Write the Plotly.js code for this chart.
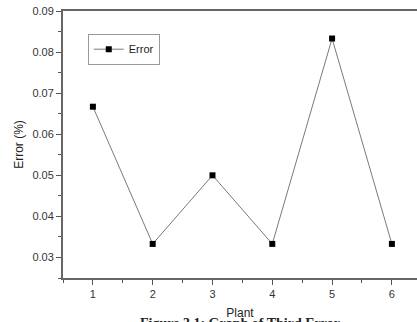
<!DOCTYPE html>
<html>
<head>
<meta charset="utf-8">
<script src="https://cdn.plot.ly/plotly-3.0.1.min.js"></script>
<style>html,body{margin:0;padding:0;background:#fff;}#chart{width:417px;height:322px;}</style>
</head>
<body>
<div id="chart"></div>
<script>
var plants = [1, 2, 3, 4, 5, 6];
var errorValues = [0.0667, 0.0333, 0.05, 0.0333, 0.0833, 0.0333];
var xTickVals = [1, 2, 3, 4, 5, 6];
var yTickVals = [0.03, 0.04, 0.05, 0.06, 0.07, 0.08, 0.09];
var seriesName = 'Error';
var caption = 'Figure 3.1: Graph of Third Error';

var trace = {
  x: plants, y: errorValues, name: seriesName,
  type: 'scatter', mode: 'lines+markers',
  line: {color: '#7a7a7a', width: 1},
  marker: {symbol: 'square', size: 6, color: '#000'}
};

var layout = {
  width: 417, height: 322,
  margin: {l: 63, r: 0, t: 11, b: 44},
  paper_bgcolor: '#fff', plot_bgcolor: '#fff',
  font: {family: 'Liberation Sans, Arial, sans-serif', size: 11, color: '#333'},
  showlegend: true,
  legend: {x: 0.07, y: 0.915, xanchor: 'left', yanchor: 'top',
    bordercolor: '#999', borderwidth: 1, bgcolor: '#fff',
    font: {size: 11, color: '#222'}, tracegroupgap: 0, itemwidth: 30},
  xaxis: {
    range: [0.5, 6.42], tickvals: xTickVals, ticks: 'outside', ticklen: 5, tickcolor: '#555',
    showgrid: false, zeroline: false, showline: true, linecolor: '#666', linewidth: 2,
    mirror: true,
    minor: {dtick: 0.5, ticks: 'outside', ticklen: 3, tickcolor: '#555', showgrid: false},
    tickfont: {size: 11, color: '#333'},
    title: {text: 'Plant', font: {size: 12, color: '#222'}, standoff: 9}
  },
  yaxis: {
    range: [0.025, 0.09], tickvals: yTickVals, ticks: 'outside', ticklen: 5, tickcolor: '#555',
    showgrid: false, zeroline: false, showline: true, linecolor: '#666', linewidth: 2,
    mirror: false, tickformat: '.2f',
    minor: {dtick: 0.005, ticks: 'outside', ticklen: 3, tickcolor: '#555', showgrid: false},
    tickfont: {size: 11, color: '#333'},
    title: {text: 'Error (%)', font: {size: 12, color: '#222'}, standoff: 6}
  },
  annotations: [{
    text: '<b>' + caption + '</b>', xref: 'paper', yref: 'paper',
    x: 0.5, y: -0.148, yshift: 4, xanchor: 'center', yanchor: 'top', showarrow: false,
    font: {family: 'Liberation Serif, Times New Roman, serif', size: 14, color: '#222'}
  }]
};

Plotly.newPlot('chart', [trace], layout, {displayModeBar: false, staticPlot: true});
</script>
</body>
</html>
